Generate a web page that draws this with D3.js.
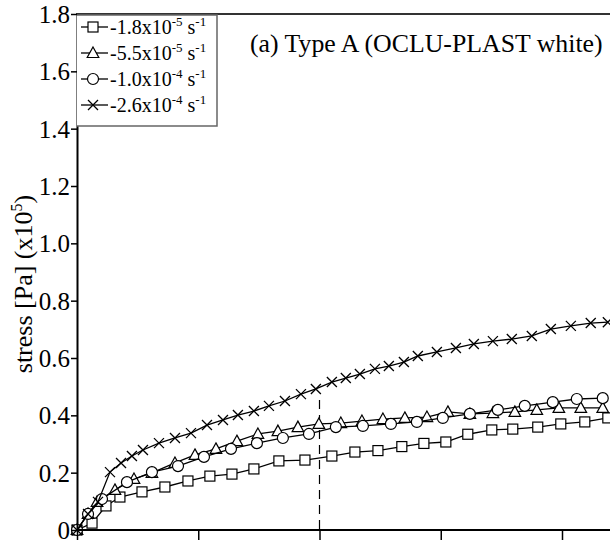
<!DOCTYPE html>
<html>
<head>
<meta charset="utf-8">
<script src="https://cdn.jsdelivr.net/npm/d3@7"></script>
<style>
  body { margin: 0; background: #fff; overflow: hidden; }
</style>
</head>
<body>
<div id="chart"></div>
<script>
// x in axis-tick units (the tick labels are cut off in the picture)
let xTicks = [0, 1, 2, 3, 4];
let yTicks = [0, 0.2, 0.4, 0.6, 0.8, 1.0, 1.2, 1.4, 1.6, 1.8];
let dashX = 2.0;

let sqX = [0, 0.124, 0.239, 0.354, 0.536, 0.725, 0.915, 1.096, 1.278, 1.459, 1.665, 1.880, 2.102, 2.292, 2.482, 2.679, 2.861, 3.042, 3.223, 3.421, 3.594, 3.800, 3.990, 4.188, 4.378];
let sqY = [0, 0.024, 0.084, 0.115, 0.133, 0.150, 0.171, 0.188, 0.195, 0.213, 0.241, 0.244, 0.258, 0.272, 0.277, 0.291, 0.302, 0.307, 0.334, 0.349, 0.352, 0.359, 0.370, 0.377, 0.391];

let triX = [0, 0.091, 0.165, 0.313, 0.470, 0.618, 0.808, 0.973, 1.146, 1.319, 1.492, 1.657, 1.822, 1.995, 2.176, 2.350, 2.523, 2.704, 2.886, 3.059, 3.240, 3.430, 3.611, 3.792, 3.974, 4.155, 4.336];
let triY = [0, 0.056, 0.098, 0.140, 0.178, 0.199, 0.234, 0.262, 0.283, 0.310, 0.335, 0.345, 0.359, 0.370, 0.373, 0.380, 0.387, 0.391, 0.394, 0.412, 0.405, 0.408, 0.412, 0.419, 0.426, 0.426, 0.426];

let cirX = [0, 0.091, 0.206, 0.412, 0.618, 0.833, 1.047, 1.270, 1.484, 1.698, 1.913, 2.135, 2.358, 2.589, 2.803, 3.017, 3.240, 3.471, 3.693, 3.924, 4.122, 4.336];
let cirY = [0, 0.056, 0.108, 0.167, 0.202, 0.223, 0.255, 0.283, 0.303, 0.321, 0.335, 0.359, 0.363, 0.370, 0.377, 0.391, 0.405, 0.419, 0.433, 0.446, 0.457, 0.460];

let crX = [0, 0.091, 0.173, 0.272, 0.363, 0.453, 0.544, 0.676, 0.808, 0.940, 1.072, 1.204, 1.327, 1.459, 1.583, 1.715, 1.847, 1.970, 2.102, 2.217, 2.333, 2.457, 2.572, 2.696, 2.811, 2.968, 3.125, 3.273, 3.430, 3.586, 3.751, 3.908, 4.073, 4.237, 4.378];
let crY = [0, 0.056, 0.098, 0.202, 0.234, 0.258, 0.279, 0.303, 0.321, 0.338, 0.366, 0.384, 0.401, 0.415, 0.433, 0.450, 0.474, 0.492, 0.516, 0.530, 0.544, 0.562, 0.572, 0.586, 0.607, 0.621, 0.635, 0.649, 0.659, 0.666, 0.677, 0.701, 0.712, 0.722, 0.725];

let seriesNames = [["-1.8x10", "-5"], ["-5.5x10", "-5"], ["-1.0x10", "-4"], ["-2.6x10", "-4"]];
let seriesMarks = ["square", "triangle", "circle", "cross"];
let title = "(a) Type A (OCLU-PLAST white)";

const SERIF = "'Liberation Serif', 'Times New Roman', 'DejaVu Serif', serif";

function chart() {
    let width = 610, height = 541;
    let svg = d3.select("#chart").append("svg")
                .attr("width", width)
                .attr("height", height);

    let xScale = d3.scaleLinear().domain([0, 4]).range([77, 562]);
    let yScale = d3.scaleLinear().domain([0, 1.8]).range([530, 14]);

    /* dashed marker line */
    svg.append("line")
        .attr("x1", xScale(dashX)).attr("x2", xScale(dashX))
        .attr("y1", 400).attr("y2", yScale(0))
        .attr("stroke", "#000").attr("stroke-width", 1.2)
        .attr("stroke-dasharray", "9,6");

    let series = [
        {x: sqX, y: sqY, mark: seriesMarks[0]},
        {x: triX, y: triY, mark: seriesMarks[1]},
        {x: cirX, y: cirY, mark: seriesMarks[2]},
        {x: crX, y: crY, mark: seriesMarks[3]}
    ];

    let line = d3.line().x(d => xScale(d[0])).y(d => yScale(d[1]));

    function drawMark(g, type, cx, cy) {
        if (type == "square") {
            g.append("rect").attr("x", cx - 5).attr("y", cy - 5)
             .attr("width", 10).attr("height", 10)
             .attr("fill", "#fff").attr("stroke", "#000").attr("stroke-width", 1.2);
        } else if (type == "triangle") {
            g.append("path")
             .attr("d", `M${cx},${cy - 6}L${cx + 5.8},${cy + 4.5}L${cx - 5.8},${cy + 4.5}Z`)
             .attr("fill", "#fff").attr("stroke", "#000").attr("stroke-width", 1.2);
        } else if (type == "circle") {
            g.append("circle").attr("cx", cx).attr("cy", cy).attr("r", 5.5)
             .attr("fill", "#fff").attr("stroke", "#000").attr("stroke-width", 1.2);
        } else {
            g.append("path")
             .attr("d", `M${cx - 5},${cy - 5}L${cx + 5},${cy + 5}M${cx + 5},${cy - 5}L${cx - 5},${cy + 5}`)
             .attr("stroke", "#000").attr("stroke-width", 1.3).attr("fill", "none");
        }
    }

    let plot = svg.append("g");
    series.forEach(function(s) {
        let pts = s.x.map((v, i) => [v, s.y[i]]);
        plot.append("path").datum(pts)
            .attr("d", line)
            .attr("fill", "none").attr("stroke", "#000").attr("stroke-width", 1.3);
        let g = plot.append("g");
        pts.forEach(p => drawMark(g, s.mark, xScale(p[0]), yScale(p[1])));
    });

    /* top frame */
    svg.append("line").attr("x1", 76).attr("x2", width)
        .attr("y1", 14).attr("y2", 14)
        .attr("stroke", "#333").attr("stroke-width", 2);

    /* y axis */
    let yAxis = d3.axisLeft(yScale)
        .tickValues(yTicks)
        .tickFormat(d => d == 0 ? "0" : d3.format(".1f")(d))
        .tickSize(6).tickSizeOuter(0).tickPadding(1);
    let ya = svg.append("g").attr("transform", "translate(77,0)").call(yAxis);
    ya.select(".domain").attr("stroke-width", 2);
    ya.selectAll(".tick line").attr("stroke-width", 1.5);
    ya.selectAll("text")
        .style("font-family", SERIF).style("font-size", "25px")
        .attr("dy", "0.34em");

    /* x axis */
    let xAxis = d3.axisBottom(xScale)
        .tickValues(xTicks).tickFormat("")
        .tickSize(10).tickSizeOuter(0);
    let xa = svg.append("g").attr("transform", "translate(0,530)").call(xAxis);
    xa.select(".domain").attr("d", `M77,0H${width}`).attr("stroke-width", 2);
    xa.selectAll(".tick line").attr("stroke-width", 1.5);

    /* y label */
    let yl = svg.append("text")
        .attr("transform", "translate(32,284) rotate(-90)")
        .attr("text-anchor", "middle")
        .style("font-family", SERIF).style("font-size", "26px");
    yl.append("tspan").text("stress [Pa] (x10");
    yl.append("tspan").text("5").style("font-size", "16px").attr("dy", -10);
    yl.append("tspan").text(")").attr("dy", 10);

    /* title */
    svg.append("text").attr("x", 250).attr("y", 52)
        .style("font-family", SERIF).style("font-size", "25.8px")
        .text(title);

    /* legend */
    let lg = svg.append("g");
    lg.append("path").attr("d", "M77,15H217V126H77")
        .attr("fill", "#fff").attr("stroke", "#666").attr("stroke-width", 1.5);
    seriesNames.forEach(function(n, i) {
        let y = 27 + i * 26;
        lg.append("line").attr("x1", 81).attr("x2", 108).attr("y1", y).attr("y2", y)
          .attr("stroke", "#000").attr("stroke-width", 1.3);
        drawMark(lg, seriesMarks[i], 93, y);
        let t = lg.append("text").attr("x", 110).attr("y", y + 7)
          .style("font-family", SERIF).style("font-size", "20px");
        t.append("tspan").text(n[0]);
        t.append("tspan").text(n[1]).style("font-size", "13px").attr("dy", -8);
        t.append("tspan").text(" s").attr("dy", 8);
        t.append("tspan").text("-1").style("font-size", "13px").attr("dy", -8);
    });
}

chart();
</script>
</body>
</html>
